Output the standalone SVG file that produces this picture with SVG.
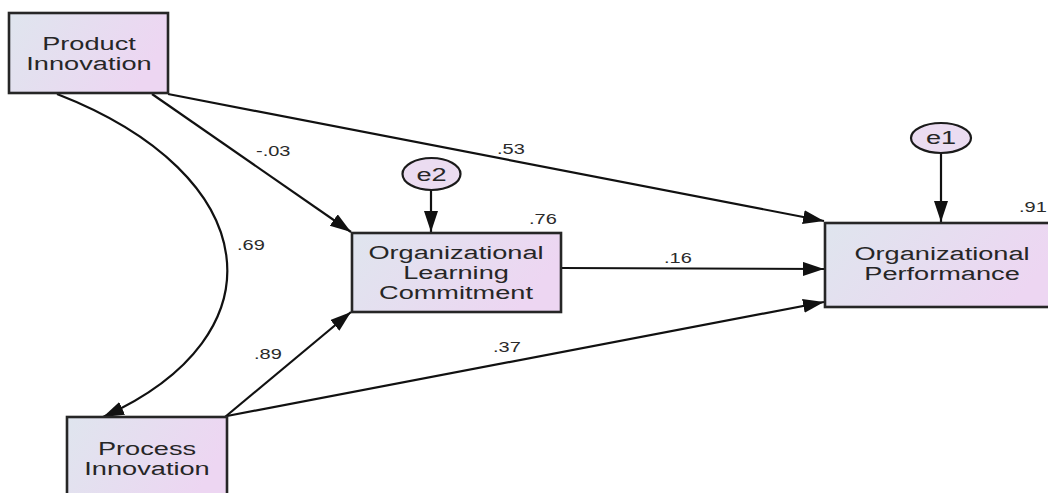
<svg xmlns="http://www.w3.org/2000/svg" width="1048" height="493" viewBox="0 0 1048 493">
<style>
.box{stroke:#262626;stroke-width:2.6;fill:url(#g)}
.ell{stroke:#1a1a1a;stroke-width:2.2;fill:#ebdcf1}
.t{font-family:"Liberation Sans",Arial,sans-serif;font-size:19px;fill:#262626;text-anchor:middle}
.l{font-family:"Liberation Sans",Arial,sans-serif;font-size:14px;fill:#2a2a2a}
.c{stroke:#111;stroke-width:2.2;fill:none}
</style>
<defs>
<linearGradient id="g" x1="0" y1="0" x2="1" y2="0.3">
<stop offset="0" stop-color="#dfe5ee"/>
<stop offset="1" stop-color="#edd6f2"/>
</linearGradient>
<marker id="a" markerUnits="userSpaceOnUse" markerWidth="22" markerHeight="16" refX="21" refY="7" orient="auto">
<path d="M0,0 L21,7 L0,14 z" fill="#111"/>
</marker>
</defs>
<rect width="1048" height="493" fill="#fff"/>
<g id="connectors">
<path class="c" d="M152,94 L351,232" marker-end="url(#a)"/>
<path class="c" d="M168,94 L824,221" marker-end="url(#a)"/>
<path class="c" d="M561,268 L824,269" marker-end="url(#a)"/>
<path class="c" d="M225,417 L351,312" marker-end="url(#a)"/>
<path class="c" d="M227,416 L824,302" marker-end="url(#a)"/>
<path class="c" d="M431,190 L431,232" marker-end="url(#a)"/>
<path class="c" d="M941,153 L941,222" marker-end="url(#a)"/>
<path class="c" d="M57,94 C265,175 285,335 103,417" marker-start="url(#a)" marker-end="url(#a)"/>
<text class="l" transform="translate(256,156) scale(1.43,1)">-.03</text>
<text class="l" transform="translate(237,250) scale(1.43,1)">.69</text>
<text class="l" transform="translate(254,359) scale(1.43,1)">.89</text>
<text class="l" transform="translate(497,154) scale(1.43,1)">.53</text>
<text class="l" transform="translate(664,263) scale(1.43,1)">.16</text>
<text class="l" transform="translate(493,352) scale(1.43,1)">.37</text>
</g>
<g id="product-innovation">
<rect class="box" x="9" y="13" width="159" height="80"/>
<text class="t" transform="translate(89,50) scale(1.43,1)">Product</text>
<text class="t" transform="translate(89,70) scale(1.43,1)">Innovation</text>
</g>
<g id="process-innovation">
<rect class="box" x="67" y="417" width="160" height="85"/>
<text class="t" transform="translate(147,455) scale(1.43,1)">Process</text>
<text class="t" transform="translate(147,475) scale(1.43,1)">Innovation</text>
</g>
<g id="olc">
<rect class="box" x="352" y="233" width="209" height="79"/>
<text class="t" transform="translate(456,259) scale(1.43,1)">Organizational</text>
<text class="t" transform="translate(456,279) scale(1.43,1)">Learning</text>
<text class="t" transform="translate(456,299) scale(1.43,1)">Commitment</text>
<text class="l" transform="translate(529,224) scale(1.43,1)">.76</text>
</g>
<g id="op">
<rect class="box" x="825" y="223" width="235" height="84"/>
<text class="t" transform="translate(942,260) scale(1.43,1)">Organizational</text>
<text class="t" transform="translate(942,280) scale(1.43,1)">Performance</text>
<text class="l" transform="translate(1019,212) scale(1.43,1)">.91</text>
</g>
<g id="e2">
<ellipse class="ell" cx="431.5" cy="174" rx="29" ry="16"/>
<text class="t" transform="translate(431.5,181) scale(1.43,1)">e2</text>
</g>
<g id="e1">
<ellipse class="ell" cx="941" cy="138" rx="30" ry="15"/>
<text class="t" transform="translate(941,144) scale(1.43,1)">e1</text>
</g>
</svg>
